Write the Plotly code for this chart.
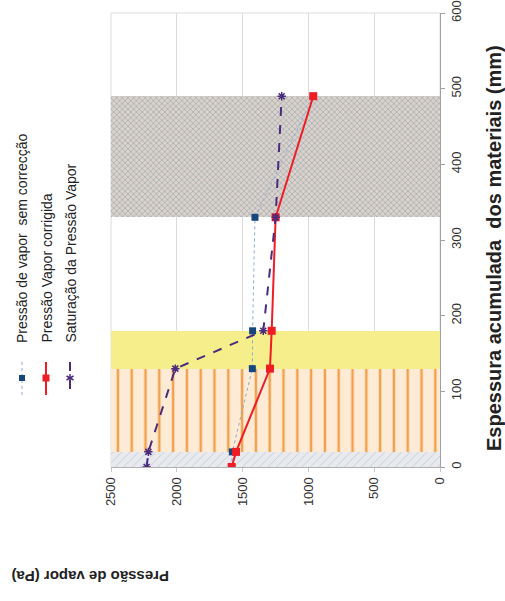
import plotly.graph_objects as go

# espessura acumulada (mm) nas interfaces das camadas
espessura = [0, 20, 130, 180, 330, 490]
p_sem_correccao = [1583, 1578, 1426, 1424, 1406, 963]
p_corrigida = [1583, 1550, 1292, 1279, 1249, 963]
p_saturacao = [2229, 2216, 2011, 1343, 1249, 1203]

# camadas de material (limites em mm)
camadas_inicio = [0, 20, 130, 330]
camadas_fim = [20, 130, 180, 490]

x_ticks = [0, 500, 1000, 1500, 2000, 2500]
y_ticks = [0, 100, 200, 300, 400, 500, 600]

W, H = 505, 601
L, R, T, B = 111, 440, 13, 467

def px(x):
    return (x - L) / (R - L)

def py(y):
    return (B - y) / (B - T)

padroes = [
    dict(color="#e6e8ec", pattern=dict(shape="/", fgcolor="#c3ccd6", bgcolor="#e8eaee", size=6, solidity=0.15, fillmode="replace")),
    dict(color="#fde6cc", pattern=dict(shape="|", fgcolor="#f2a04c", bgcolor="#fdebd6", size=13.8, solidity=0.18, fillmode="replace")),
    dict(color="#f5ee8a"),
    dict(color="#c9c2bd", pattern=dict(shape="x", fgcolor="#94a9ae", bgcolor="#ddd1cb", size=4, solidity=0.3, fillmode="replace")),
]

fig = go.Figure()
for a, b, m in zip(camadas_inicio, camadas_fim, padroes):
    fig.add_trace(go.Bar(orientation="h", y=[(a + b) / 2], x=[2500], base=0, width=[b - a],
                         marker=dict(line=dict(width=0), **m), showlegend=False, hoverinfo="skip"))

fig.add_trace(go.Scatter(x=p_sem_correccao, y=espessura, mode="lines+markers",
                         line=dict(color="#8eaad0", width=1, dash="dot"),
                         marker=dict(symbol="square", size=7, color="#17467f"),
                         name="Pressão de vapor  sem correcção"))
fig.add_trace(go.Scatter(x=p_corrigida, y=espessura, mode="lines+markers",
                         line=dict(color="#ee1c25", width=2),
                         marker=dict(symbol="square", size=8, color="#ee1c25"),
                         name="Pressão Vapor corrigida"))
fig.add_trace(go.Scatter(x=p_saturacao, y=espessura, mode="lines+markers",
                         line=dict(color="#4a2b7c", width=2, dash="dash"),
                         marker=dict(symbol="asterisk-open", size=7, color="#4a2b7c",
                                     line=dict(color="#4a2b7c", width=1.5)),
                         name="Saturação da Pressão Vapor"))

fnt = dict(family="Liberation Sans, Arial, sans-serif", size=13, color="#333")

fig.update_layout(
    width=W, height=H, showlegend=False, barmode="overlay", bargap=0,
    margin=dict(l=L, r=W - R, t=T, b=H - B),
    plot_bgcolor="white", paper_bgcolor="white", font=fnt,
    xaxis=dict(range=[2500, 0], tickvals=x_ticks, tickangle=-90, showgrid=True, automargin=False,
               gridcolor="#dcdcdc", zeroline=False, showline=True, linecolor="#b0b0b0",
               ticks="outside", ticklen=4, tickcolor="#c8c8c8", tickfont=fnt),
    yaxis=dict(range=[0, 600], tickvals=y_ticks, side="right", tickangle=-90, showgrid=False,
               automargin=False, zeroline=False, showline=True, linecolor="#a0a0a0", ticks="outside",
               ticklen=4, tickcolor="#a0a0a0", tickfont=fnt),
)

# contorno da área do gráfico
fig.add_shape(type="rect", xref="paper", yref="paper", x0=0, x1=1, y0=0, y1=1,
              line=dict(color="#dcdcdc", width=1), layer="below")

# títulos dos eixos (rodados como no original)
fig.add_annotation(text="<b>Espessura acumulada  dos materiais (mm)</b>", xref="paper", yref="paper",
                   x=px(494), y=py(248), textangle=-90, showarrow=False, xanchor="center", yanchor="middle",
                   font=dict(family="Liberation Sans, Arial, sans-serif", size=20, color="#222"))
fig.add_annotation(text="<b>Pressão de vapor (Pa)</b>", xref="paper", yref="paper",
                   x=px(90), y=py(577), textangle=180, showarrow=False, xanchor="center", yanchor="middle",
                   font=dict(family="Liberation Sans, Arial, sans-serif", size=15, color="#222"))

# legenda rodada
nomes = ["Pressão de vapor  sem correcção", "Pressão Vapor corrigida", "Saturação da Pressão Vapor"]
cores_linha = ["#8eaad0", "#ee1c25", "#4a2b7c"]
tracos = ["dot", "solid", "dash"]
larguras = [1, 2, 2]
cols = [22, 46, 70]
for nome, cx, cl, d, lw in zip(nomes, cols, cores_linha, tracos, larguras):
    fig.add_annotation(text=nome, xref="paper", yref="paper", x=px(cx), y=py(345),
                       textangle=-90, showarrow=False, xanchor="center", yanchor="bottom",
                       font=dict(family="Liberation Sans, Arial, sans-serif", size=14, color="#222"))
    fig.add_shape(type="line", xref="paper", yref="paper", x0=px(cx), x1=px(cx),
                  y0=py(362), y1=py(395), line=dict(color=cl, width=lw, dash=d))
fig.add_shape(type="rect", xref="paper", yref="paper", x0=px(19), x1=px(25), y0=py(381), y1=py(375),
              fillcolor="#17467f", line=dict(width=0))
fig.add_shape(type="rect", xref="paper", yref="paper", x0=px(42.5), x1=px(49.5), y0=py(381.5), y1=py(374.5),
              fillcolor="#ee1c25", line=dict(width=0))
for dx, dy in [(0, 4), (3.5, 2), (3.5, -2)]:
    fig.add_shape(type="line", xref="paper", yref="paper", x0=px(70 - dx), x1=px(70 + dx),
                  y0=py(378 - dy), y1=py(378 + dy), line=dict(color="#4a2b7c", width=1.5))

fig.write_html("out.html", config={"displayModeBar": False},
               post_script="document.body.style.margin='0';")
